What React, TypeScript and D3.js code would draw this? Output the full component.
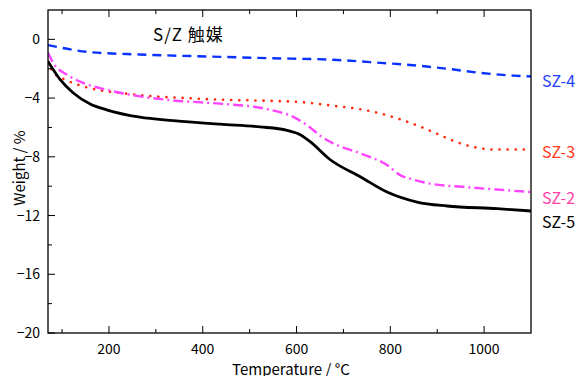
import React from 'react';
import * as d3 from 'd3';

// temperature (°C) / weight change (%)
const SZ4_T = [70, 160, 266, 437, 537, 678, 779, 849, 921, 992, 1063, 1100];
const SZ4_W = [-0.39, -0.87, -1.03, -1.19, -1.28, -1.39, -1.6, -1.76, -2.0, -2.28, -2.47, -2.52];

const SZ3_T = [70, 81, 110, 145, 181, 238, 295, 366, 437, 537, 608, 678, 750, 785, 849, 881, 913, 949, 985, 1020, 1100];
const SZ3_W = [-1.5, -2.24, -2.79, -3.2, -3.47, -3.7, -3.88, -4.0, -4.11, -4.18, -4.27, -4.52, -4.84, -5.1, -5.76, -6.17, -6.62, -7.08, -7.38, -7.5, -7.5];

const SZ2_T = [70, 81, 110, 145, 195, 266, 337, 437, 537, 594, 629, 651, 678, 736, 793, 821, 849, 885, 956, 1028, 1100];
const SZ2_W = [-0.91, -1.6, -2.4, -2.97, -3.43, -3.88, -4.16, -4.38, -4.75, -5.3, -6.0, -6.58, -7.08, -7.77, -8.56, -9.25, -9.55, -9.83, -10.05, -10.23, -10.4];

const SZ5_T = [70, 96, 124, 160, 195, 266, 337, 437, 522, 580, 608, 629, 672, 736, 793, 857, 921, 1028, 1100];
const SZ5_W = [-1.5, -2.74, -3.65, -4.4, -4.8, -5.3, -5.53, -5.78, -5.96, -6.2, -6.5, -6.97, -8.2, -9.36, -10.4, -11.08, -11.35, -11.53, -11.69];

const X_TICKS = [200, 400, 600, 800, 1000];
const X_MINOR = [100, 300, 500, 700, 900];
const Y_TICKS = [0, -4, -8, -12, -16, -20];
const Y_MINOR = [-2, -6, -10, -14, -18];

const SERIES = [
  { name: 'SZ-4', t: SZ4_T, w: SZ4_W, color: '#0a32ff', text: '#1f3fff', dash: '9,6', width: 2.4, labelY: 81 },
  { name: 'SZ-3', t: SZ3_T, w: SZ3_W, color: '#ff2a10', text: '#ff3a1a', dash: '0.1,8', width: 2.6, labelY: 152 },
  { name: 'SZ-2', t: SZ2_T, w: SZ2_W, color: '#ff44ff', text: '#ff3fa8', dash: '10,4,2,4', width: 2.4, labelY: 198 },
  { name: 'SZ-5', t: SZ5_T, w: SZ5_W, color: '#000000', text: '#000000', dash: null, width: 2.8, labelY: 222 },
];

const FONT = '"Noto Sans CJK JP", "Noto Sans", sans-serif';

export default function App() {
  const W = 586, H = 376;
  const m = { left: 48, right: 55, top: 10, bottom: 43 };
  const x = d3.scaleLinear().domain([70, 1100]).range([m.left, W - m.right]);
  const y = d3.scaleLinear().domain([-20, 2]).range([H - m.bottom, m.top]);

  const line = d3.line<[number, number]>()
    .x(d => x(d[0]))
    .y(d => y(d[1]))
    .curve(d3.curveMonotoneX);

  const [x0, x1] = x.range();
  const [yb, yt] = y.range();

  return (
    <svg width={W} height={H} style={{ position: 'absolute', left: 0, top: 0, background: '#fff' }}
      fontFamily={FONT}>
      <defs>
        <clipPath id="plot">
          <rect x={x0} y={yt} width={x1 - x0} height={yb - yt} />
        </clipPath>
      </defs>

      <g clipPath="url(#plot)">
        {SERIES.map(s => (
          <path key={s.name}
            d={line(s.t.map((t, i) => [t, s.w[i]] as [number, number])) || ''}
            fill="none" stroke={s.color} strokeWidth={s.width}
            strokeDasharray={s.dash || undefined}
            strokeLinecap={s.name === 'SZ-3' ? 'round' : 'butt'} />
        ))}
      </g>

      {/* frame */}
      <rect x={x0} y={yt} width={x1 - x0} height={yb - yt} fill="none" stroke="#000" strokeWidth={1.3} />

      {/* x ticks bottom + top, inward */}
      {X_TICKS.map(v => (
        <g key={'xt' + v}>
          <line x1={x(v)} x2={x(v)} y1={yb} y2={yb - 7} stroke="#000" />
          <line x1={x(v)} x2={x(v)} y1={yt} y2={yt + 7} stroke="#000" />
          <text x={x(v)} y={yb + 21} textAnchor="middle" fontSize={14}>{v}</text>
        </g>
      ))}
      {X_MINOR.map(v => (
        <g key={'xm' + v}>
          <line x1={x(v)} x2={x(v)} y1={yb} y2={yb - 4} stroke="#000" />
          <line x1={x(v)} x2={x(v)} y1={yt} y2={yt + 4} stroke="#000" />
        </g>
      ))}

      {/* y ticks left, inward */}
      {Y_TICKS.map(v => (
        <g key={'yt' + v}>
          <line x1={x0} x2={x0 + 7} y1={y(v)} y2={y(v)} stroke="#000" />
          <text x={x0 - 8} y={y(v)} dy="0.36em" textAnchor="end" fontSize={14}>
            {v < 0 ? '\u2212' + Math.abs(v) : v}
          </text>
        </g>
      ))}
      {Y_MINOR.map(v => (
        <line key={'ym' + v} x1={x0} x2={x0 + 4} y1={y(v)} y2={y(v)} stroke="#000" />
      ))}

      {/* axis titles */}
      <text x={291} y={H - 1} textAnchor="middle" fontSize={15}>Temperature / °C</text>
      <text transform={`translate(25,168) rotate(-90)`} textAnchor="middle" fontSize={15}>
        Weight / %
      </text>

      <text x={153} y={41} fontSize={17} letterSpacing={1}>S/Z 触媒</text>

      {SERIES.map(s => (
        <text key={'l' + s.name} x={542} y={s.labelY} dy="0.36em" fontSize={16} fill={s.text}>
          {s.name}
        </text>
      ))}
    </svg>
  );
}
